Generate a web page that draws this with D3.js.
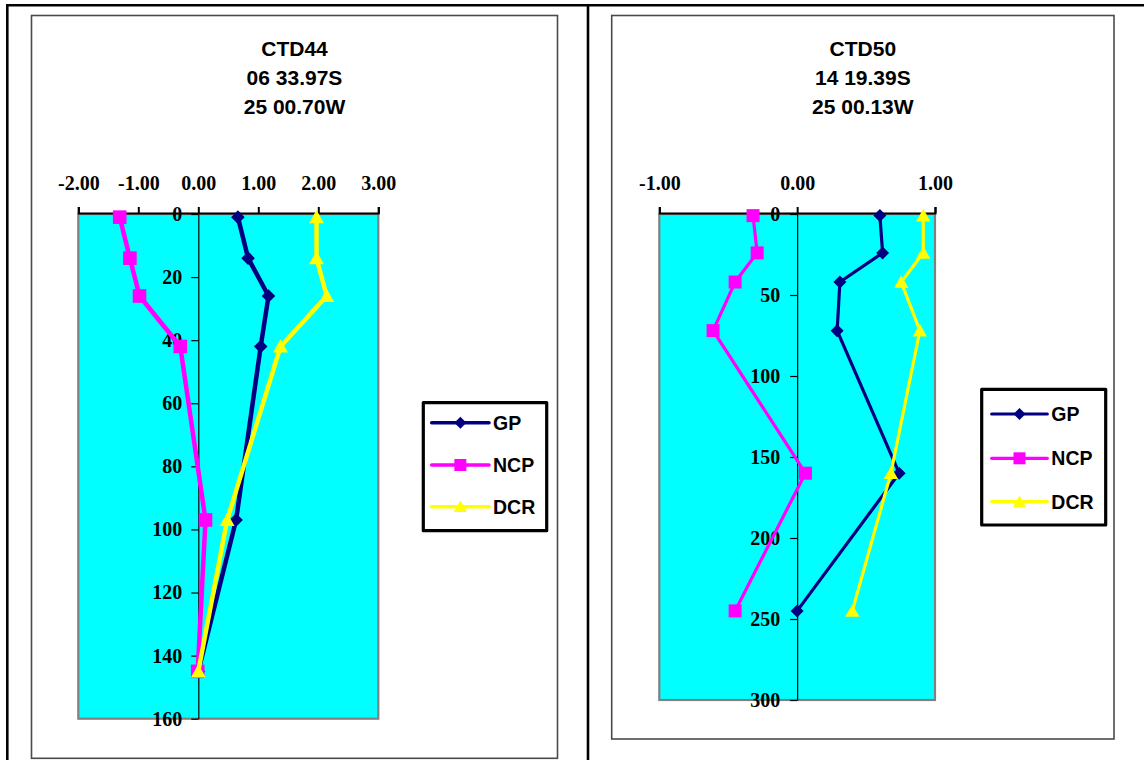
<!DOCTYPE html>
<html>
<head>
<meta charset="utf-8">
<script src="https://cdn.jsdelivr.net/npm/d3@7"></script>
<style>
  html, body { margin: 0; padding: 0; background: #ffffff; }
  svg { display: block; }
</style>
</head>
<body>
<svg id="chart" width="1144" height="760"></svg>
<script>
// ---------- DATA ----------
const seriesNames = ["GP", "NCP", "DCR"];

const ctd44Title = ["CTD44", "06 33.97S", "25 00.70W"];
const ctd44Depth = [1, 14, 26, 42, 97, 145];
const ctd44GP  = [0.66, 0.83, 1.17, 1.04, 0.63, 0.00];
const ctd44NCP = [-1.31, -1.14, -0.98, -0.30, 0.12, -0.01];
const ctd44DCR = [1.97, 1.97, 2.14, 1.37, 0.48, 0.00];
const ctd44XTicks = [-2, -1, 0, 1, 2, 3];
const ctd44YTicks = [0, 20, 40, 60, 80, 100, 120, 140, 160];

const ctd50Title = ["CTD50", "14 19.39S", "25 00.13W"];
const ctd50Depth = [1, 24, 42, 72, 160, 245];
const ctd50GP  = [0.60, 0.62, 0.31, 0.29, 0.74, 0.00];
const ctd50NCP = [-0.32, -0.29, -0.45, -0.61, 0.06, -0.45];
const ctd50DCR = [0.915, 0.915, 0.755, 0.89, 0.68, 0.40];
const ctd50XTicks = [-1, 0, 1];
const ctd50YTicks = [0, 50, 100, 150, 200, 250, 300];

// ---------- STYLE ----------
const colors = { GP: "#000080", NCP: "#FF00FF", DCR: "#FFFF00" };
const sansBold = "'Liberation Sans', Arial, sans-serif";
const serifBold = "'Liberation Serif', 'Times New Roman', serif";
const fmtX = v => d3.format(".2f")(v).replace("\u2212", "-");

const svg = d3.select("#chart");

// outer table borders
const tbl = svg.append("g").attr("stroke", "#000").attr("stroke-width", 2.6);
tbl.append("line").attr("x1", 6).attr("x2", 1144).attr("y1", 5.3).attr("y2", 5.3);
tbl.append("line").attr("x1", 7.3).attr("x2", 7.3).attr("y1", 4).attr("y2", 760);
tbl.append("line").attr("x1", 588).attr("x2", 588).attr("y1", 4).attr("y2", 760);

function markerPath(type, h) {
  if (type === "GP") return `M0,${-h}L${h},0L0,${h}L${-h},0Z`;
  if (type === "NCP") return `M${-h},${-h}H${h}V${h}H${-h}Z`;
  const w = h * 1.1, t = h * 1.05;
  return `M0,${-t}L${w},${t * 0.85}L${-w},${t * 0.85}Z`;
}

function drawPanel(cfg) {
  const g = svg.append("g");

  g.append("rect")
    .attr("x", cfg.frame[0]).attr("y", cfg.frame[1])
    .attr("width", cfg.frame[2] - cfg.frame[0])
    .attr("height", cfg.frame[3] - cfg.frame[1])
    .attr("fill", "#fff").attr("stroke", "#4a4a4a").attr("stroke-width", 1.6);

  const cx = (cfg.frame[0] + cfg.frame[2]) / 2;
  cfg.title.forEach((t, i) => {
    g.append("text").attr("x", cx).attr("y", 56 + i * 29)
      .attr("text-anchor", "middle")
      .attr("font-family", sansBold).attr("font-weight", "bold")
      .attr("font-size", 21).text(t);
  });

  const x = d3.scaleLinear().domain(cfg.xDomain).range([cfg.plot[0], cfg.plot[2]]);
  const y = d3.scaleLinear().domain(cfg.yDomain).range([cfg.plot[1], cfg.plot[3]]);

  g.append("rect")
    .attr("x", x(cfg.xDomain[0])).attr("y", y(cfg.yDomain[0]))
    .attr("width", x(cfg.xDomain[1]) - x(cfg.xDomain[0]))
    .attr("height", y(cfg.yDomain[1]) - y(cfg.yDomain[0]))
    .attr("fill", "#00FFFF").attr("stroke", "#808080").attr("stroke-width", 2.2);

  const yAxis = g.append("g")
    .attr("transform", `translate(${x(0)},0)`)
    .call(d3.axisLeft(y).tickValues(cfg.yTicks).tickSize(7).tickSizeOuter(0).tickPadding(cfg.yPad)
      .tickFormat(d3.format("d")));
  yAxis.selectAll("path, line").attr("stroke", "#000").attr("stroke-width", 1.2);
  yAxis.selectAll("text").attr("font-family", serifBold).attr("font-weight", "bold")
    .attr("font-size", 20).attr("fill", "#000");

  const xAxis = g.append("g")
    .attr("transform", `translate(0,${y(cfg.yDomain[0]) - 1})`)
    .call(d3.axisTop(x).tickValues(cfg.xTicks).tickSize(6).tickSizeOuter(6).tickPadding(17)
      .tickFormat(fmtX));
  xAxis.selectAll("path, line").attr("stroke", "#000").attr("stroke-width", 2);
  xAxis.selectAll("text").attr("font-family", serifBold).attr("font-weight", "bold")
    .attr("font-size", 20).attr("fill", "#000");

  cfg.series.forEach(s => {
    const pts = cfg.depth.map((d, i) => [s.values[i], d]);
    g.append("path").datum(pts)
      .attr("fill", "none").attr("stroke", colors[s.name])
      .attr("stroke-width", cfg.lineW).attr("stroke-linejoin", "round")
      .attr("d", d3.line().x(p => x(p[0])).y(p => y(p[1])));
    g.selectAll(null).data(pts).enter().append("path")
      .attr("transform", p => `translate(${x(p[0])},${y(p[1])})`)
      .attr("d", markerPath(s.name, cfg.markerH))
      .attr("fill", colors[s.name]);
  });

  const L = cfg.legend;
  g.append("rect").attr("x", L.box[0]).attr("y", L.box[1])
    .attr("width", L.box[2] - L.box[0]).attr("height", L.box[3] - L.box[1])
    .attr("fill", "#fff").attr("stroke", "#000").attr("stroke-width", 3.2)
    .attr("stroke-linejoin", "round");
  seriesNames.forEach((n, i) => {
    const ly = L.rows[i];
    const mx = (L.line[0] + L.line[1]) / 2;
    g.append("line").attr("x1", L.line[0]).attr("x2", L.line[1])
      .attr("y1", ly).attr("y2", ly)
      .attr("stroke", colors[n]).attr("stroke-width", L.lineW).attr("stroke-linecap", "round");
    g.append("path").attr("transform", `translate(${mx},${ly})`)
      .attr("d", markerPath(n, 6)).attr("fill", colors[n]);
    g.append("text").attr("x", L.line[1] + 4).attr("y", ly).attr("dy", "0.36em")
      .attr("font-family", sansBold).attr("font-weight", "bold")
      .attr("font-size", 19.5).attr("fill", "#000").text(n);
  });
}

drawPanel({
  frame: [31.5, 15.5, 557.5, 758.3],
  title: ctd44Title,
  plot: [78.3, 214, 378.3, 718.7],
  xDomain: [-2, 3], yDomain: [0, 160],
  xTicks: ctd44XTicks, yTicks: ctd44YTicks, yPad: 9,
  depth: ctd44Depth,
  series: [
    { name: "GP", values: ctd44GP },
    { name: "NCP", values: ctd44NCP },
    { name: "DCR", values: ctd44DCR }
  ],
  lineW: 4.5, markerH: 6.8,
  legend: { box: [423.3, 402.7, 546.7, 530.7], line: [431.7, 489], rows: [422.7, 465, 506.7], lineW: 3.6 }
});

drawPanel({
  frame: [611.7, 15.5, 1114, 739],
  title: ctd50Title,
  plot: [659.3, 214, 935, 700],
  xDomain: [-1, 1], yDomain: [0, 300],
  xTicks: ctd50XTicks, yTicks: ctd50YTicks, yPad: 10,
  depth: ctd50Depth,
  series: [
    { name: "GP", values: ctd50GP },
    { name: "NCP", values: ctd50NCP },
    { name: "DCR", values: ctd50DCR }
  ],
  lineW: 3.2, markerH: 6.5,
  legend: { box: [981.7, 389.3, 1105.7, 525], line: [991.7, 1047.3], rows: [414, 458.3, 501.7], lineW: 3.2 }
});
</script>
</body>
</html>
